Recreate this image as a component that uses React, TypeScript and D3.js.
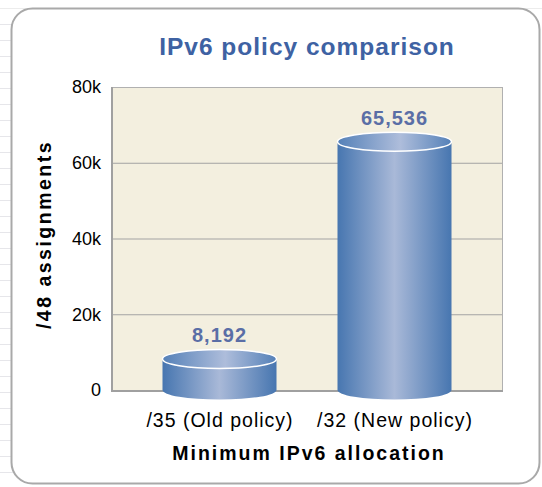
import React from "react";
import * as d3 from "d3";

const categories = ["/35 (Old policy)", "/32 (New policy)"];
const values = [8192, 65536];
const yTicks = [0, 20000, 40000, 60000, 80000];
const yTickLabels = ["0", "20k", "40k", "60k", "80k"];
const title = "IPv6 policy comparison";
const xTitle = "Minimum IPv6 allocation";
const yTitle = "/48 assignments";

const W = 542, H = 487;
const plot = { x0: 111, x1: 503, y0: 87, y1: 390 };
const FONT = "'Liberation Sans', Arial, sans-serif";

export default function App() {
  const y = d3.scaleLinear().domain([0, 80000]).range([plot.y1, plot.y0]);
  const x = d3.scalePoint<string>().domain(categories).range([plot.x0, plot.x1]).padding(0.62);
  const bw = 114;
  const ry = 9.5;
  const fmt = d3.format(",");
  const bgLines = d3.range(8, H, 16);

  return (
    <svg width={W} height={H} style={{ position: "absolute", left: 0, top: 0 }} fontFamily={FONT}>
      <defs>
        <linearGradient id="body" x1="0" x2="1" y1="0" y2="0">
          <stop offset="0" stopColor="#4776b0" />
          <stop offset="0.5" stopColor="#a9b9d8" />
          <stop offset="1" stopColor="#4776b0" />
        </linearGradient>
        <linearGradient id="top" x1="0" x2="1" y1="0" y2="0">
          <stop offset="0" stopColor="#5581b8" />
          <stop offset="0.55" stopColor="#aebddb" />
          <stop offset="1" stopColor="#5581b8" />
        </linearGradient>
      </defs>
      <rect x={0} y={0} width={W} height={H} fill="#ffffff" />
      {bgLines.map((ly) => (
        <line key={ly} x1={0} x2={14} y1={ly + 0.5} y2={ly + 0.5} stroke="#e6e6ea" strokeWidth={1} />
      ))}
      <line x1={0} x2={W} y1={8.5} y2={8.5} stroke="#ececec" />
      <rect x={11.5} y={8.5} width={528} height={475} rx={21} ry={21} fill="#ffffff" stroke="#a9a9a9" strokeWidth={2} />

      <text x={307} y={55} textAnchor="middle" fontSize={24.5} fontWeight="bold" letterSpacing={1} fill="#3e62a3">{title}</text>

      <rect x={plot.x0} y={plot.y0} width={plot.x1 - plot.x0} height={plot.y1 - plot.y0} fill="#f3efdf" />
      {yTicks.slice(1, -1).map((t) => (
        <line key={t} x1={plot.x0} x2={plot.x1} y1={y(t) + 0.5} y2={y(t) + 0.5} stroke="#a3a3a3" strokeWidth={1} />
      ))}
      <line x1={plot.x0} x2={plot.x1} y1={plot.y0 + 0.5} y2={plot.y0 + 0.5} stroke="#b0b0b0" strokeWidth={1} />
      <line x1={plot.x1 - 0.5} x2={plot.x1 - 0.5} y1={plot.y0} y2={plot.y1} stroke="#b0b0b0" strokeWidth={1} />
      <line x1={plot.x0 + 1} x2={plot.x0 + 1} y1={plot.y0} y2={plot.y1 + 2} stroke="#a0a0a0" strokeWidth={2} />
      <line x1={plot.x0} x2={plot.x1} y1={plot.y1 + 1} y2={plot.y1 + 1} stroke="#a0a0a0" strokeWidth={2} />

      {yTicks.map((t, i) => (
        <text key={t} x={101} y={y(t)} dy="0.36em" textAnchor="end" fontSize={18} fill="#000">{yTickLabels[i]}</text>
      ))}

      {categories.map((c, i) => {
        const cx = x(c) as number;
        const top = y(values[i]);
        const base = y(0);
        const l = cx - bw / 2, r = cx + bw / 2;
        const bodyPath = `M${l},${top} L${l},${base} A${bw / 2},${ry} 0 0 0 ${r},${base} L${r},${top} Z`;
        return (
          <g key={c}>
            <path d={bodyPath} fill="url(#body)" />
            <ellipse cx={cx} cy={top} rx={bw / 2} ry={ry} fill="url(#top)" stroke="#ffffff" strokeWidth={1.5} />
            <text x={cx} y={top - ry - 7} textAnchor="middle" fontSize={20} fontWeight="bold" fill="#5a6ea6" letterSpacing={1}>{fmt(values[i])}</text>
            <text x={cx + 0.5} y={427} textAnchor="middle" fontSize={19.5} letterSpacing={1} fill="#000">{c}</text>
          </g>
        );
      })}

      <text x={309} y={460} textAnchor="middle" fontSize={19.5} fontWeight="bold" letterSpacing={2} fill="#000">{xTitle}</text>
      <text transform={`translate(51,${(plot.y0 + plot.y1) / 2 - 4}) rotate(-90)`} textAnchor="middle" fontSize={19.5} fontWeight="bold" letterSpacing={2.5} fill="#000">{yTitle}</text>
    </svg>
  );
}
